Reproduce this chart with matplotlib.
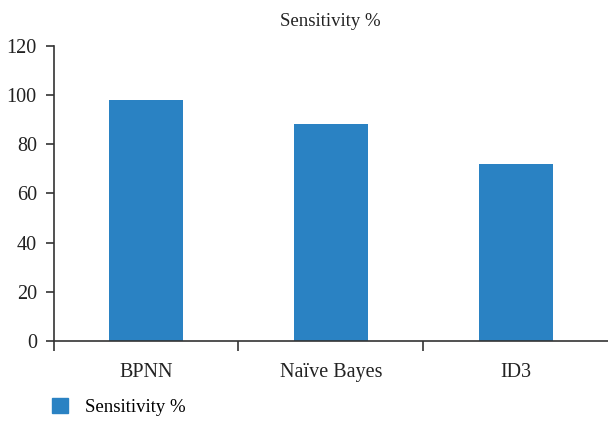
import matplotlib
matplotlib.use("Agg")
import matplotlib.pyplot as plt
from matplotlib.patches import Patch

categories = ["BPNN", "Naïve Bayes", "ID3"]
values = [98, 88, 72]
series_name = "Sensitivity %"
yticks = [0, 20, 40, 60, 80, 100, 120]

plt.rcParams['font.family'] = ['Liberation Serif', 'DejaVu Serif']

fig = plt.figure(figsize=(6.08, 4.21), dpi=100)
ax = fig.add_axes([0.088, 0.19, 0.912, 0.7015])
x = list(range(len(categories)))
ax.bar(x, values, width=0.4, color="#2a82c3", zorder=2)
ax.set_xlim(-0.5, len(categories) - 0.5)
ax.set_ylim(0, 120)
ax.set_yticks(yticks)
ax.set_xticks(x)
ax.set_xticklabels(categories, fontsize=14.5, color="#222222")
ax.set_xticks([i - 0.5 for i in range(len(categories))], minor=True)
ax.tick_params(axis='x', which='major', length=0, pad=16)
ax.tick_params(axis='x', which='minor', length=7, width=1.2, color="#333333", direction='out')
ax.tick_params(axis='y', length=6, width=1.2, color="#333333", labelsize=14.5, labelcolor="#222222", pad=6)
for s in ['top', 'right']:
    ax.spines[s].set_visible(False)
for s in ['left', 'bottom']:
    ax.spines[s].set_color("#333333")
    ax.spines[s].set_linewidth(1.2)
ax.set_title(series_name, fontsize=13.5, pad=14, color="#222222")
fig.legend(handles=[Patch(color="#2a82c3", label=series_name)], loc='lower left',
           bbox_to_anchor=(0.086, 0.012), frameon=False, fontsize=13.5,
           borderaxespad=0, borderpad=0,
           handlelength=0.85, handleheight=0.85, handletextpad=0.9)
fig.savefig("out.png", dpi=100)
